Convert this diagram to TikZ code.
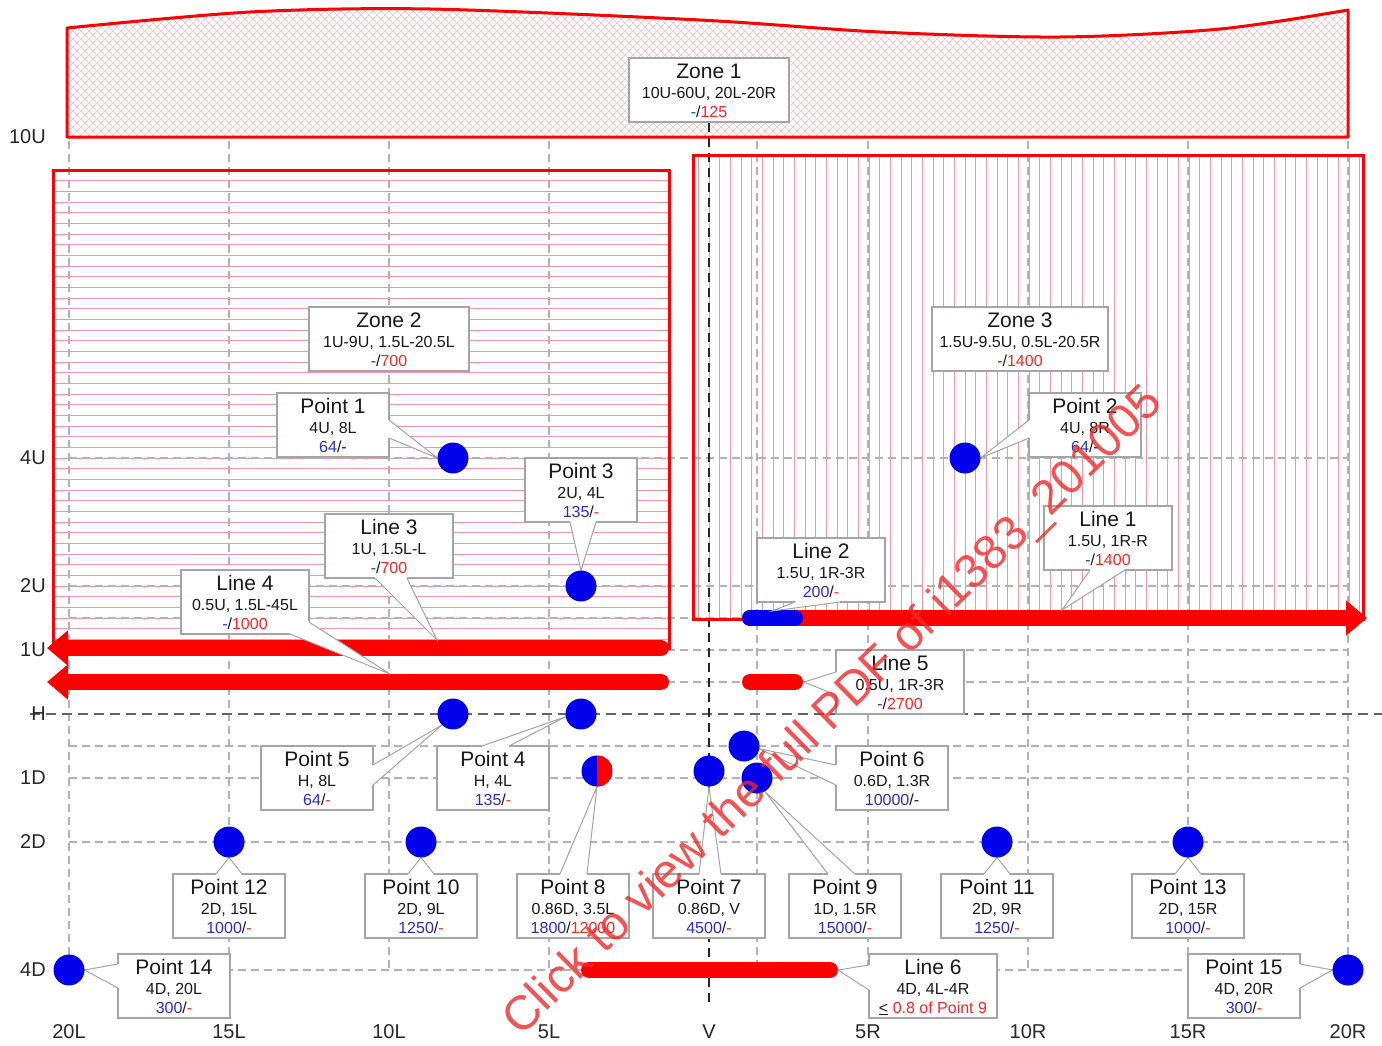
\documentclass[tikz,border=0pt]{standalone}
\usepackage{fontspec}
\setmainfont{Liberation Sans}
\usetikzlibrary{arrows.meta,calc}
\definecolor{ptblue}{RGB}{0,0,235}
\definecolor{zred}{RGB}{255,0,0}
\definecolor{boxgray}{RGB}{165,165,165}
\definecolor{gridgray}{RGB}{178,178,178}
\definecolor{hatchpink}{RGB}{242,150,166}
\definecolor{xhatch}{RGB}{245,190,198}
\definecolor{txtblue}{RGB}{45,45,205}
\definecolor{txtred}{RGB}{245,40,40}
\definecolor{txt}{RGB}{25,25,25}
\definecolor{axgray}{RGB}{40,40,40}
\definecolor{wmred}{RGB}{240,40,40}
\pgfdeclarelayer{bg}
\pgfdeclarelayer{fg}
\pgfsetlayers{bg,main,fg}
\newcommand\bl[1]{\textcolor{txtblue}{#1}}
\newcommand\rd[1]{\textcolor{txtred}{#1}}
\newcommand\callbox[7]{%
  \node[cbox, minimum width=#4pt, anchor=north] (#1) at (#2,#3) {};
  \node[ttl, anchor=base] (#1t) at (#2,#3+20) {#5};
  \node[sub, anchor=base] (#1a) at (#2,#3+40) {#6};
  \node[sub, anchor=base] (#1b) at (#2,#3+59) {#7};}
\newcommand\cwedge[3]{%
  \fill[white] #1 -- #2 -- #3 -- cycle;
  \draw[white, line width=1.8pt] #1 -- #3;
  \draw[wline] #1 -- #2 -- #3;}
\begin{document}
\begin{tikzpicture}[x=1pt,y=-1pt,
  cbox/.style={draw=boxgray, fill=white, line width=1.2pt, minimum height=64pt, inner sep=0pt, outer sep=0pt},
  ttl/.style={font=\fontsize{21}{21}\selectfont, text=txt, inner sep=0pt},
  sub/.style={font=\fontsize{16}{16}\selectfont, text=txt, inner sep=0pt},
  wline/.style={draw=boxgray, line width=1pt, line join=miter},
  pt/.style={circle, fill=ptblue, minimum size=31pt, inner sep=0pt, outer sep=0pt},
  axl/.style={font=\fontsize{20}{20}\selectfont, text=axgray, inner sep=0pt},
  gridln/.style={draw=gridgray, line width=1.3pt, dash pattern=on 8pt off 5pt},
  hln/.style={draw={rgb,255:red,100;green,100;blue,100}, line width=2pt, dash pattern=on 10pt off 6pt},
  vln/.style={draw=black!85, line width=1.8pt, dash pattern=on 9pt off 6pt},
  zoneb/.style={draw=zred, line width=3pt},
  xh/.style={draw=xhatch, line width=0.6pt},
  hh/.style={draw=hatchpink, line width=0.8pt},
  redln/.style={draw=zred, line width=16pt, line cap=round},
  bluln/.style={draw=ptblue, line width=16pt, line cap=round},
  arr/.style={-{Triangle[length=21pt,width=34pt]}}
]
\useasboundingbox (0,0) rectangle (1382,1045);
\begin{pgfonlayer}{bg}
\fill[white] (0,0) rectangle (1382,1045);
% Zone 1 crosshatch
\begin{scope}
\clip (67,137) -- plot[smooth] coordinates {(67,28) (250,12) (430,9) (700,20) (880,32) (1060,37) (1220,29) (1348,10)} -- (1348,137) -- cycle;
\foreach \i in {0,...,190} {\draw[xh] ({\i*8-150},0) -- ++(150,150); \draw[xh] ({\i*8},0) -- ++(-150,150);}
\end{scope}
% Zone 2 hatch
\begin{scope}
\clip (53,170) rectangle (669,648);
\foreach \k in {-27,...,18} \draw[hh] (53,{458+\k*10.667}) -- (669,{458+\k*10.667});
\end{scope}
% Zone 3 hatch
\begin{scope}
\clip (693,155) rectangle (1363,619);
\foreach \k in {-2,...,62} \draw[hh] ({709+\k*10.667},155) -- ({709+\k*10.667},619);
\end{scope}
% grid
\foreach \y in {458,586,618,650,682,746,778,842,970} \draw[gridln] (69,\y) -- (1348,\y);
\foreach \x in {69,229,389,549,757,868,1028,1188,1348} \draw[gridln] (\x,141) -- (\x,970);
\draw[hln] (30,714) -- (1382,714);
\coordinate (vtop) at (709,123);
\coordinate (vbot) at (709,1005);
\draw[vln] (vtop) -- (vbot);
\end{pgfonlayer}
% zone borders
\draw[zoneb, line join=round] (67,137) -- plot[smooth] coordinates {(67,28) (250,12) (430,9) (700,20) (880,32) (1060,37) (1220,29) (1348,10)} -- (1348,137) -- cycle;
\draw[zoneb] (53,170) rectangle (669,648);
\draw[zoneb] (693,155) rectangle (1363,619);
% lines
\coordinate (l3s) at (661,648); \coordinate (l3e) at (47,648);
\coordinate (l4s) at (661,682); \coordinate (l4e) at (47,682);
\coordinate (l1s) at (750,618); \coordinate (l1e) at (1367,618);
\coordinate (l2s) at (750,618); \coordinate (l2e) at (795,618);
\coordinate (l5s) at (750,682); \coordinate (l5e) at (795,682);
\coordinate (l6s) at (589,970); \coordinate (l6e) at (830,970);
\draw[redln, arr] (l3s) -- (l3e);
\draw[redln, arr] (l4s) -- (l4e);
\draw[redln, arr] (l1s) -- (l1e);
\draw[bluln] (l2s) -- (l2e);
\draw[redln] (l5s) -- (l5e);
\draw[redln] (l6s) -- (l6e);
\coordinate (l3c) at (437,640);
\coordinate (l4c) at (390,674);
\coordinate (l2c) at (772,611);
\coordinate (l1c) at (1062,610);
\coordinate (l5c) at (804,682);
\coordinate (l6c) at (838,970);
% points
\begin{pgfonlayer}{fg}
\node[pt] (p1) at (453,458) {};
\node[pt] (p2) at (965,458) {};
\node[pt] (p3) at (581,586) {};
\node[pt] (p4) at (581,714) {};
\node[pt] (p5) at (453,714) {};
\node[pt] (p6) at (744,746) {};
\node[pt] (p7) at (709,771) {};
\node[pt, path picture={\fill[zred] (path picture bounding box.north) rectangle (path picture bounding box.south east);}] (p8) at (597,771) {};
\node[pt] (p9) at (757,778) {};
\node[pt] (p10) at (421,842) {};
\node[pt] (p11) at (997,842) {};
\node[pt] (p12) at (229,842) {};
\node[pt] (p13) at (1188,842) {};
\node[pt] (p14) at (69,970) {};
\node[pt] (p15) at (1348,970) {};
\end{pgfonlayer}
% callouts
\callbox{z1}{709}{58}{160}{Zone 1}{10U-60U, 20L-20R}{\bl{-}/\rd{125}}
\callbox{z2}{389}{307}{160}{Zone 2}{1U-9U, 1.5L-20.5L}{\bl{-}/\rd{700}}
\callbox{z3}{1020}{307}{176}{Zone 3}{1.5U-9.5U, 0.5L-20.5R}{\bl{-}/\rd{1400}}
\callbox{b1}{333}{393}{112}{Point 1}{4U, 8L}{\bl{64}/-}
\cwedge{($(b1.north east)+(0,27)$)}{(p1.west)}{($(b1.north east)+(0,45)$)}
\callbox{b2}{1085}{393}{112}{Point 2}{4U, 8R}{\bl{64}/-}
\cwedge{($(b2.north west)+(0,27)$)}{(p2.east)}{($(b2.north west)+(0,45)$)}
\callbox{b3}{581}{458}{112}{Point 3}{2U, 4L}{\bl{135}/\rd{-}}
\cwedge{($(b3.south)+(-11,0)$)}{(p3.north)}{($(b3.south)+(15,0)$)}
\callbox{bl3}{389}{514}{128}{Line 3}{1U, 1.5L-L}{\bl{-}/\rd{700}}
\cwedge{($(bl3.south)+(-14,0)$)}{(l3c)}{($(bl3.south)+(18,0)$)}
\callbox{bl4}{245}{570}{128}{Line 4}{0.5U, 1.5L-45L}{\bl{-}/\rd{1000}}
\cwedge{($(bl4.south east)+(-19,0)$)}{(l4c)}{($(bl4.south east)+(0,-12)$)}
\callbox{bl2}{821}{538}{128}{Line 2}{1.5U, 1R-3R}{\bl{200}/\rd{-}}
\cwedge{($(bl2.south)+(-26,0)$)}{(l2c)}{($(bl2.south)+(19,0)$)}
\callbox{bl1}{1108}{506}{128}{Line 1}{1.5U, 1R-R}{\bl{-}/\rd{1400}}
\cwedge{($(bl1.south)+(-18,0)$)}{(l1c)}{($(bl1.south)+(17,0)$)}
\callbox{bl5}{900}{650}{128}{Line 5}{0.5U, 1R-3R}{\bl{-}/\rd{2700}}
\cwedge{($(bl5.north west)+(0,22)$)}{(l5c)}{($(bl5.north west)+(0,45)$)}
\callbox{b5}{317}{746}{112}{Point 5}{H, 8L}{\bl{64}/\rd{-}}
\cwedge{($(b5.north east)+(0,19)$)}{(p5.225)}{($(b5.north east)+(0,39)$)}
\callbox{b4}{493}{746}{112}{Point 4}{H, 4L}{\bl{135}/\rd{-}}
\cwedge{($(b4.north)+(-11,0)$)}{(p4.190)}{($(b4.north)+(16,0)$)}
\callbox{b6}{892}{746}{112}{Point 6}{0.6D, 1.3R}{\bl{10000}/-}
\cwedge{($(b6.north west)+(0,19)$)}{(p6.-10)}{($(b6.north west)+(0,39)$)}
\callbox{b12}{229}{874}{112}{Point 12}{2D, 15L}{\bl{1000}/\rd{-}}
\cwedge{($(b12.north)+(-13,0)$)}{(p12.south)}{($(b12.north)+(13,0)$)}
\callbox{b10}{421}{874}{112}{Point 10}{2D, 9L}{\bl{1250}/\rd{-}}
\cwedge{($(b10.north)+(-13,0)$)}{(p10.south)}{($(b10.north)+(13,0)$)}
\callbox{b8}{573}{874}{112}{Point 8}{0.86D, 3.5L}{\bl{1800}/\rd{12000}}
\cwedge{($(b8.north)+(-13,0)$)}{(p8.south)}{($(b8.north)+(14,0)$)}
\callbox{b7}{709}{874}{112}{Point 7}{0.86D, V}{\bl{4500}/\rd{-}}
\cwedge{($(b7.north)+(-10,0)$)}{(p7.south)}{($(b7.north)+(12,0)$)}
\callbox{b9}{845}{874}{112}{Point 9}{1D, 1.5R}{\bl{15000}/\rd{-}}
\cwedge{($(b9.north)+(-17,0)$)}{(p9.-60)}{($(b9.north)+(10,0)$)}
\callbox{b11}{997}{874}{112}{Point 11}{2D, 9R}{\bl{1250}/\rd{-}}
\cwedge{($(b11.north)+(-13,0)$)}{(p11.south)}{($(b11.north)+(13,0)$)}
\callbox{b13}{1188}{874}{112}{Point 13}{2D, 15R}{\bl{1000}/\rd{-}}
\cwedge{($(b13.north)+(-13,0)$)}{(p13.south)}{($(b13.north)+(13,0)$)}
\callbox{b14}{174}{954}{112}{Point 14}{4D, 20L}{\bl{300}/\rd{-}}
\cwedge{($(b14.north west)+(0,10)$)}{(p14.east)}{($(b14.north west)+(0,34)$)}
\callbox{bl6}{933}{954}{128}{Line 6}{4D, 4L-4R}{\underline{<} \rd{0.8 of Point 9}}
\cwedge{($(bl6.north west)+(0,11)$)}{(l6c)}{($(bl6.north west)+(0,36)$)}
\callbox{b15}{1244}{954}{112}{Point 15}{4D, 20R}{\bl{300}/\rd{-}}
\cwedge{($(b15.north east)+(0,10)$)}{(p15.west)}{($(b15.north east)+(0,34)$)}
% axis labels
\node[axl, anchor=east] (a10U) at (46,137) {10U};
\node[axl, anchor=east] (a4U) at (46,458) {4U};
\node[axl, anchor=east] (a2U) at (46,586) {2U};
\node[axl, anchor=east] (a1U) at (46,650) {1U};
\node[axl, anchor=east] (aH) at (46,714) {H};
\node[axl, anchor=east] (a1D) at (46,778) {1D};
\node[axl, anchor=east] (a2D) at (46,842) {2D};
\node[axl, anchor=east] (a4D) at (46,970) {4D};
\node[axl] (x20L) at (69,1032) {20L};
\node[axl] (x15L) at (229,1032) {15L};
\node[axl] (x10L) at (389,1032) {10L};
\node[axl] (x5L) at (549,1032) {5L};
\node[axl] (xV) at (709,1032) {V};
\node[axl] (x5R) at (868,1032) {5R};
\node[axl] (x10R) at (1028,1032) {10R};
\node[axl] (x15R) at (1188,1032) {15R};
\node[axl] (x20R) at (1348,1032) {20R};
% watermark
\begin{pgfonlayer}{fg}
\node[rotate=44.5, text=wmred, opacity=0.8, inner sep=0pt, font=\fontsize{48}{48}\selectfont] (wm) at (834,712) {Click to view the full PDF of i1383\_201005};
\end{pgfonlayer}
\end{tikzpicture}
\end{document}
